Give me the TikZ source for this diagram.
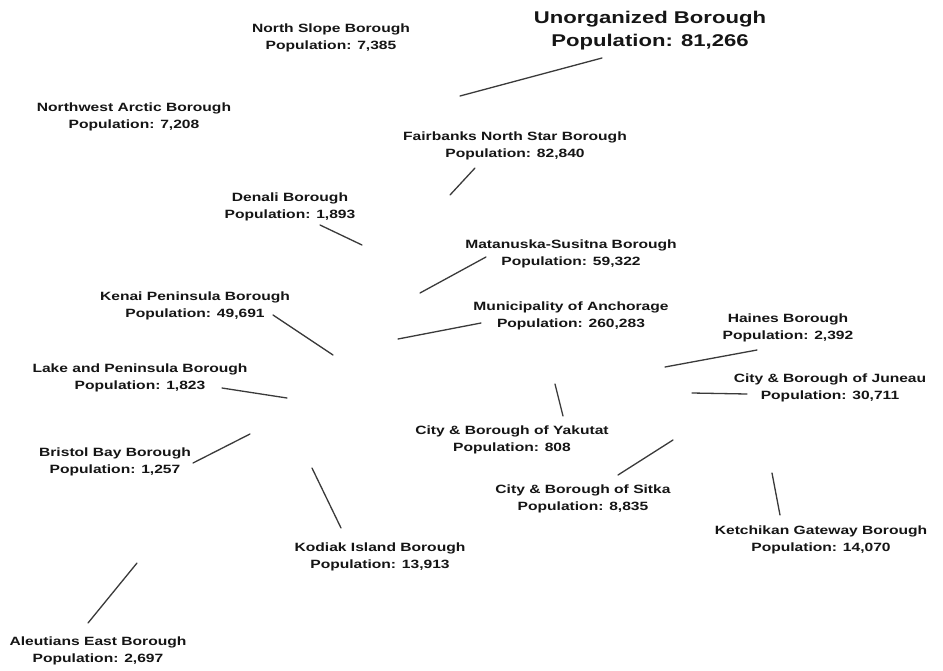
\documentclass[tikz,border=0pt]{standalone}
\usepackage{fontspec}
\setmainfont{Liberation Sans}[FakeStretch=1.3]
\definecolor{ink}{HTML}{151515}
\definecolor{leader}{HTML}{3A3A3A}
\tikzset{
  lbl/.style={align=center, inner sep=0pt, text=ink, font=\fontsize{12}{17.5}\selectfont\bfseries},
  biglbl/.style={align=center, inner sep=0pt, text=ink, font=\fontsize{17}{23}\selectfont\bfseries},
  lead/.style={draw=leader, line width=1.3pt, line cap=round}
}
\begin{document}
\begin{tikzpicture}[x=1pt,y=-1pt]
\useasboundingbox[fill=white] (0,0) rectangle (943,670);

% labels
\node[lbl] (ns) at (331,38) {North Slope Borough\\Population: 7,385};
\node[biglbl] (unorg) at (650,31) {Unorganized Borough\\Population: 81,266};
\node[lbl] (nw) at (134,117) {Northwest Arctic Borough\\Population: 7,208};
\node[lbl] (fb) at (515,146) {Fairbanks North Star Borough\\Population: 82,840};
\node[lbl] (den) at (290,207) {Denali Borough\\Population: 1,893};
\node[lbl] (mat) at (571,254) {Matanuska-Susitna Borough\\Population: 59,322};
\node[lbl] (ken) at (195,306) {Kenai Peninsula Borough\\Population: 49,691};
\node[lbl] (anc) at (571,316) {Municipality of Anchorage\\Population: 260,283};
\node[lbl] (hai) at (788,328) {Haines Borough\\Population: 2,392};
\node[lbl] (lake) at (140,378) {Lake and Peninsula Borough\\Population: 1,823};
\node[lbl] (jun) at (830,388) {City \& Borough of Juneau\\Population: 30,711};
\node[lbl] (yak) at (512,440) {City \& Borough of Yakutat\\Population: 808};
\node[lbl] (bb) at (115,462) {Bristol Bay Borough\\Population: 1,257};
\node[lbl] (sit) at (583,499) {City \& Borough of Sitka\\Population: 8,835};
\node[lbl] (ket) at (821,540) {Ketchikan Gateway Borough\\Population: 14,070};
\node[lbl] (kod) at (380,557) {Kodiak Island Borough\\Population: 13,913};
\node[lbl] (ale) at (98,651) {Aleutians East Borough\\Population: 2,697};

% leader line ends
\coordinate (unorgA) at (602,58);  \coordinate (unorgB) at (460,96);
\coordinate (fbA) at (475,168);    \coordinate (fbB) at (450,195);
\coordinate (denA) at (320,225);   \coordinate (denB) at (362,245);
\coordinate (matA) at (486,257);   \coordinate (matB) at (420,293);
\coordinate (ancA) at (481,323);   \coordinate (ancB) at (398,339);
\coordinate (kenA) at (273,315);   \coordinate (kenB) at (333,355);
\coordinate (lakeA) at (222,388);  \coordinate (lakeB) at (287,398);
\coordinate (bbA) at (193,463);    \coordinate (bbB) at (250,434);
\coordinate (kodA) at (341,528);   \coordinate (kodB) at (312,468);
\coordinate (aleA) at (88,623);    \coordinate (aleB) at (137,563);
\coordinate (yakA) at (563,416);   \coordinate (yakB) at (555,384);
\coordinate (haiA) at (757,350);   \coordinate (haiB) at (665,367);
\coordinate (junA) at (747,394);   \coordinate (junB) at (692,393);
\coordinate (sitA) at (618,475);   \coordinate (sitB) at (673,440);
\coordinate (ketA) at (780,515);   \coordinate (ketB) at (772,473);

% leader lines
\foreach \n in {unorg,fb,den,mat,anc,ken,lake,bb,kod,ale,yak,hai,jun,sit,ket}
  \draw[lead] (\n A) -- (\n B);
\end{tikzpicture}
\end{document}
